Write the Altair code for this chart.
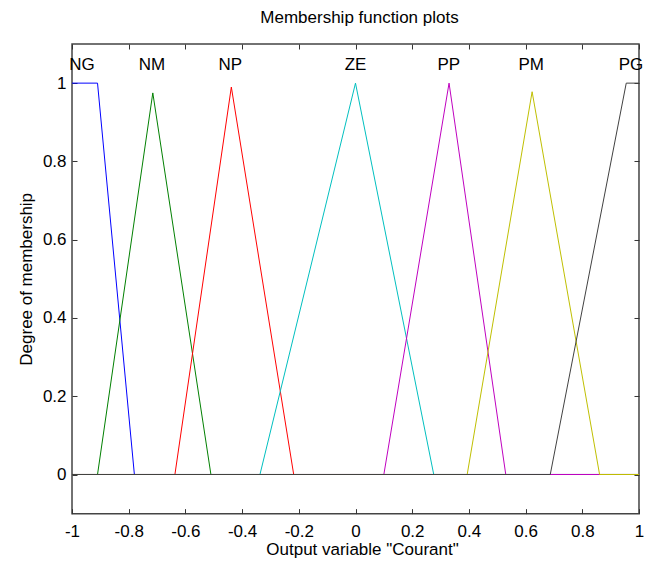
import altair as alt
import pandas as pd

# Membership functions (vertex x / y values)
names = ["NG", "NM", "NP", "ZE", "PP", "PM", "PG"]
colors = ["#0000ff", "#008000", "#ff0000", "#00bfbf", "#bf00bf", "#bfbf00", "#404040"]

ng_x = [-1.0, -0.91, -0.78, 1.0]
ng_y = [1.0, 1.0, 0.0, 0.0]
nm_x = [-1.0, -0.91, -0.715, -0.51, 1.0]
nm_y = [0.0, 0.0, 0.975, 0.0, 0.0]
np_x = [-1.0, -0.637, -0.438, -0.218, 1.0]
np_y = [0.0, 0.0, 0.99, 0.0, 0.0]
ze_x = [-1.0, -0.337, 0.0, 0.276, 1.0]
ze_y = [0.0, 0.0, 1.0, 0.0, 0.0]
pp_x = [-1.0, 0.1, 0.33, 0.53, 1.0]
pp_y = [0.0, 0.0, 1.0, 0.0, 0.0]
pm_x = [-1.0, 0.394, 0.623, 0.861, 1.0]
pm_y = [0.0, 0.0, 0.978, 0.0, 0.0]
pg_x = [-1.0, 0.687, 0.955, 1.0]
pg_y = [0.0, 0.0, 1.0, 1.0]

label_x = [-0.965, -0.718, -0.442, 0.0, 0.329, 0.62, 0.972]
label_y = [1.033] * 7

x_ticks = [-1, -0.8, -0.6, -0.4, -0.2, 0, 0.2, 0.4, 0.6, 0.8, 1]
y_ticks = [0, 0.2, 0.4, 0.6, 0.8, 1]

mf_x = [ng_x, nm_x, np_x, ze_x, pp_x, pm_x, pg_x]
mf_y = [ng_y, nm_y, np_y, ze_y, pp_y, pm_y, pg_y]

rows = []
for name, xs, ys in zip(names, mf_x, mf_y):
    for i, (xv, yv) in enumerate(zip(xs, ys)):
        rows.append({"name": name, "x": xv, "y": yv, "i": i})
df = pd.DataFrame(rows)
labels_df = pd.DataFrame({"name": names, "x": label_x, "y": label_y})

FONT = "Liberation Sans"
FS = 17
W = 567
H = 469.64
x_scale = alt.Scale(domain=[-1, 1], nice=False, zero=False)
y_scale = alt.Scale(domain=[-0.1, 1.1], nice=False, zero=False)
label_expr = "datum.value < 0 ? '-' + format(-datum.value, '~g') : format(datum.value, '~g')"

common_axis = dict(
    offset=-5, tickSize=5, tickWidth=1, tickColor="#333", domain=False, grid=False,
    labelFont=FONT, labelFontSize=FS, labelColor="#000", titleFont=FONT,
    titleFontSize=FS, titleFontWeight="normal", titleColor="#000",
)

x_bottom = alt.Axis(orient="bottom", values=x_ticks, labelExpr=label_expr, labelPadding=10,
                    title='Output variable "Courant"', titlePadding=2, titleX=290,
                    titleAlign="center", labelFlush=False, labelOverlap=False, **common_axis)
x_top = alt.Axis(orient="top", values=x_ticks, labels=False, title=None, **common_axis)
y_left = alt.Axis(orient="left", values=y_ticks, labelExpr=label_expr, labelPadding=6,
                  title="Degree of membership", titlePadding=7, labelFlush=False,
                  labelOverlap=False, **common_axis)
y_right = alt.Axis(orient="right", values=y_ticks, labels=False, title=None, **common_axis)

base = alt.Chart(df)
layers = []
for k, (name, col) in enumerate(zip(names, colors)):
    if k == 0:
        xa, ya = x_bottom, y_left
    elif k == 1:
        xa, ya = x_top, y_right
    else:
        xa, ya = None, None
    layers.append(
        base.transform_filter(alt.datum.name == name)
        .mark_line(color=col, strokeWidth=1)
        .encode(
            x=alt.X("x:Q", scale=x_scale, axis=xa),
            y=alt.Y("y:Q", scale=y_scale, axis=ya),
            order="i:Q",
        )
    )

text = alt.Chart(labels_df).mark_text(
    font=FONT, fontSize=FS, color="#000", align="center", baseline="alphabetic"
).encode(
    x=alt.X("x:Q", scale=x_scale, axis=None),
    y=alt.Y("y:Q", scale=y_scale, axis=None),
    text="name:N",
)
layers.append(text)

chart = alt.layer(*layers).resolve_axis(x="independent", y="independent").properties(
    width=W,
    height=H,
    autosize=alt.AutoSizeParams(type="none"),
    padding={"left": 64, "top": 36, "right": 5, "bottom": 45},
    background="white",
    title=alt.TitleParams(
        "Membership function plots", font=FONT, fontSize=FS, fontWeight="normal",
        color="#000", anchor="middle", frame="group", baseline="alphabetic", offset=3, dx=4,
    ),
).configure_view(stroke="#444", strokeWidth=1.5)

chart.save("out.html", embed_options={"renderer": "svg", "actions": False})
